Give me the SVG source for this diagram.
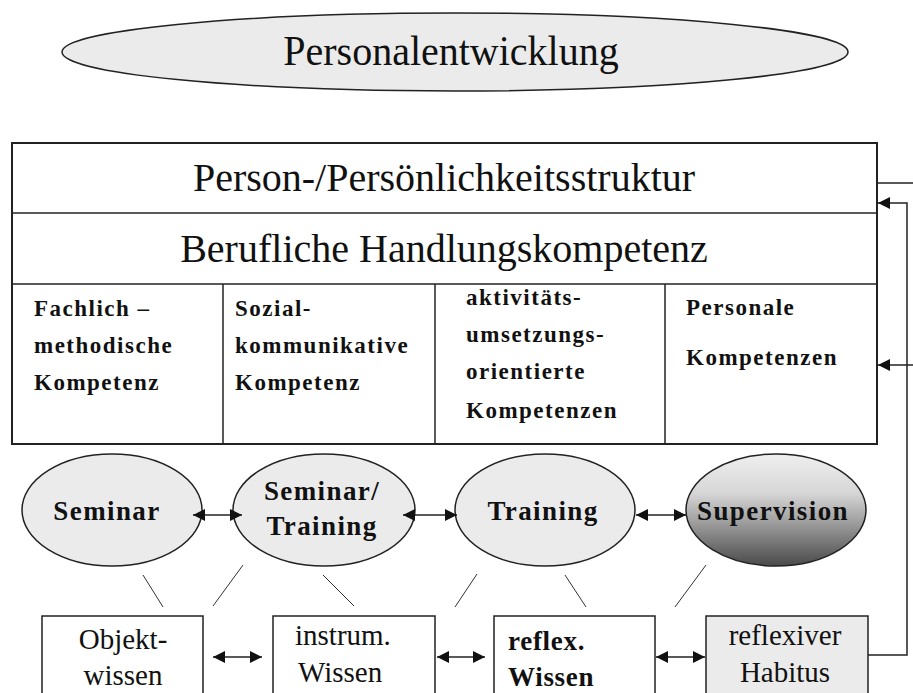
<svg xmlns="http://www.w3.org/2000/svg" width="913" height="693" viewBox="0 0 913 693">
<style>
.bg{fill:#ffffff}
.frame{fill:#ffffff;stroke:#222;stroke-width:2}
.ell{fill:#ebebeb;stroke:#222;stroke-width:1.5}
.box{fill:#ffffff;stroke:#222;stroke-width:1.5}
.boxg{fill:#ebebeb;stroke:#222;stroke-width:1.5}
.ln{stroke:#222;stroke-width:1.5;fill:none}
.tl{stroke:#333;stroke-width:1;fill:none}
.reg{font-family:"Liberation Serif","Times New Roman",serif;fill:#111}
.bold{font-family:"Liberation Serif","Times New Roman",serif;font-weight:bold;fill:#111}
.big{font-size:40px}
.col{font-size:23px;letter-spacing:1.5px}
.ovl{font-size:27px;letter-spacing:1.4px}
.bx{font-size:29px}
.bxb{font-size:27px;letter-spacing:0.7px}
</style>
<defs>
<marker id="ah" viewBox="0 0 12 12" refX="12" refY="6" markerWidth="12" markerHeight="12" markerUnits="userSpaceOnUse" orient="auto-start-reverse">
<path d="M0,0 L12,6 L0,12 z" fill="#111"/>
</marker>
<linearGradient id="sup" x1="0" y1="0" x2="0" y2="1">
<stop offset="0" stop-color="#efefef"/>
<stop offset="0.35" stop-color="#d6d6d6"/>
<stop offset="0.7" stop-color="#8a8a8a"/>
<stop offset="1" stop-color="#4a4a4a"/>
</linearGradient>
</defs>
<rect class="bg" x="0" y="0" width="913" height="693"/>

<g id="personalentwicklung">
<ellipse class="ell" cx="455" cy="52" rx="393" ry="39"/>
<text class="reg big" x="451" y="0" text-anchor="middle" transform="translate(0,65) scale(1,1.08)">Personalentwicklung</text>
</g>

<g id="struktur">
<rect class="frame" x="12" y="143" width="865" height="301"/>
<line class="ln" x1="12" y1="213" x2="877" y2="213"/>
<line class="ln" x1="12" y1="284" x2="877" y2="284"/>
<text class="reg big" x="444" y="191" text-anchor="middle">Person-/Persönlichkeitsstruktur</text>
</g>

<g id="handlungskompetenz">
<text class="reg big" x="444" y="262" text-anchor="middle">Berufliche Handlungskompetenz</text>
<line class="ln" x1="223" y1="284" x2="223" y2="444"/>
<line class="ln" x1="435" y1="284" x2="435" y2="444"/>
<line class="ln" x1="665" y1="284" x2="665" y2="444"/>
</g>

<g id="fachlich">
<text class="bold col" x="34" y="316">Fachlich –</text>
<text class="bold col" x="34" y="353">methodische</text>
<text class="bold col" x="34" y="390">Kompetenz</text>
</g>
<g id="sozial">
<text class="bold col" x="235" y="316">Sozial-</text>
<text class="bold col" x="235" y="353">kommunikative</text>
<text class="bold col" x="235" y="390">Kompetenz</text>
</g>
<g id="aktivitaet">
<text class="bold col" x="466" y="305">aktivitäts-</text>
<text class="bold col" x="466" y="342">umsetzungs-</text>
<text class="bold col" x="466" y="379">orientierte</text>
<text class="bold col" x="466" y="418">Kompetenzen</text>
</g>
<g id="personal">
<text class="bold col" x="686" y="315">Personale</text>
<text class="bold col" x="686" y="365">Kompetenzen</text>
</g>

<g id="seminar">
<ellipse class="ell" cx="112" cy="510" rx="90" ry="56"/>
<text class="bold ovl" x="107" y="520" text-anchor="middle">Seminar</text>
</g>
<g id="seminar-training">
<ellipse class="ell" cx="324" cy="510" rx="91" ry="56"/>
<text class="bold ovl" x="322" y="500" text-anchor="middle">Seminar/</text>
<text class="bold ovl" x="322" y="535" text-anchor="middle">Training</text>
</g>
<g id="training">
<ellipse class="ell" cx="545" cy="510" rx="90" ry="56"/>
<text class="bold ovl" x="543" y="520" text-anchor="middle">Training</text>
</g>
<g id="supervision">
<ellipse cx="776" cy="510" rx="90" ry="56" fill="url(#sup)" stroke="#222" stroke-width="1.5"/>
<text class="bold ovl" x="773" y="520" text-anchor="middle">Supervision</text>
</g>

<g id="objektwissen">
<rect class="box" x="42" y="616" width="161" height="100"/>
<text class="reg bx" x="123" y="649" text-anchor="middle">Objekt-</text>
<text class="reg bx" x="123" y="685" text-anchor="middle">wissen</text>
</g>
<g id="instrum">
<rect class="box" x="273" y="616" width="162" height="100"/>
<text class="reg bx" x="295" y="645">instrum.</text>
<text class="reg bx" x="298" y="682">Wissen</text>
</g>
<g id="reflex">
<rect class="box" x="494" y="616" width="161" height="100"/>
<text class="bold bxb" x="508" y="650">reflex.</text>
<text class="bold bxb" x="508" y="686">Wissen</text>
</g>
<g id="habitus">
<rect class="boxg" x="706" y="616" width="162" height="100"/>
<text class="reg bx" x="785" y="645" text-anchor="middle">reflexiver</text>
<text class="reg bx" x="785" y="682" text-anchor="middle">Habitus</text>
</g>

<g id="connectors">
<line class="ln" x1="193" y1="515" x2="242" y2="515" marker-start="url(#ah)" marker-end="url(#ah)"/>
<line class="ln" x1="403" y1="515" x2="457" y2="515" marker-start="url(#ah)" marker-end="url(#ah)"/>
<line class="ln" x1="636" y1="515" x2="686" y2="515" marker-start="url(#ah)" marker-end="url(#ah)"/>

<line class="ln" x1="213" y1="657" x2="262" y2="657" marker-start="url(#ah)" marker-end="url(#ah)"/>
<line class="ln" x1="437" y1="657" x2="485" y2="657" marker-start="url(#ah)" marker-end="url(#ah)"/>
<line class="ln" x1="656" y1="657" x2="705" y2="657" marker-start="url(#ah)" marker-end="url(#ah)"/>

<line class="tl" x1="143" y1="575" x2="163" y2="607"/>
<line class="tl" x1="243" y1="565" x2="213" y2="606"/>
<line class="tl" x1="323" y1="575" x2="354" y2="606"/>
<line class="tl" x1="477" y1="574" x2="455" y2="607"/>
<line class="tl" x1="565" y1="575" x2="586" y2="607"/>
<line class="tl" x1="706" y1="565" x2="675" y2="607"/>

<line class="ln" x1="877" y1="183" x2="913" y2="183"/>
<polyline class="ln" points="868,655 907,655 907,203 878,203" marker-end="url(#ah)"/>
<line class="ln" x1="913" y1="365" x2="878" y2="365" marker-end="url(#ah)"/>
</g>
</svg>
